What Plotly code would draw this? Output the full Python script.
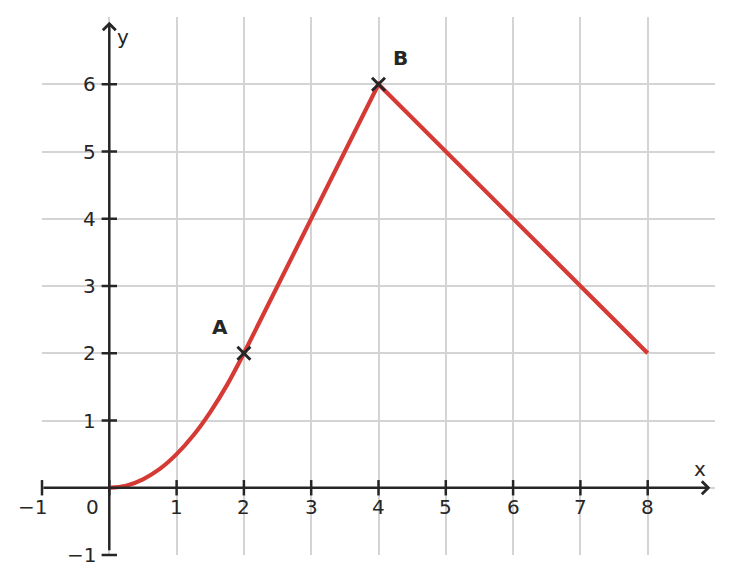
import plotly.graph_objects as go

curve_x = [0, 0.25, 0.5, 0.75, 1, 1.25, 1.5, 1.75, 2]
curve_y = [0, 0.03, 0.125, 0.28, 0.5, 0.78, 1.125, 1.53, 2]
line_x = [2, 4, 8]
line_y = [2, 6, 2]

# labelled points
point_names = ["A", "B"]
point_x = [2, 4]
point_y = [2, 6]

# ticks
x_ticks = [-1, 1, 2, 3, 4, 5, 6, 7, 8]
y_ticks = [-1, 1, 2, 3, 4, 5, 6]
x_grid = [-1, 0, 1, 2, 3, 4, 5, 6, 7, 8]
y_grid = [-1, 0, 1, 2, 3, 4, 5, 6]

ink = "#262626"
red = "#d63a35"
font = "DejaVu Sans"
fsize = 20


def minus(v):
    return str(v).replace("-", "\u2212")


fig = go.Figure()

# tick marks on the axes
fig.add_trace(go.Scatter(
    x=x_ticks + [0], y=[0] * (len(x_ticks) + 1), mode="markers",
    marker=dict(symbol="line-ns", size=11, line=dict(width=2.5, color=ink)),
    hoverinfo="skip", cliponaxis=False,
))
fig.add_trace(go.Scatter(
    x=[0] * len(y_ticks), y=y_ticks, mode="markers",
    marker=dict(symbol="line-ew", size=11, line=dict(width=2.5, color=ink)),
    hoverinfo="skip", cliponaxis=False,
))

# the function
fig.add_trace(go.Scatter(
    x=curve_x, y=curve_y, mode="lines", line_shape="spline",
    line=dict(color=red, width=4.2), hoverinfo="skip",
))
fig.add_trace(go.Scatter(
    x=line_x, y=line_y, mode="lines",
    line=dict(color=red, width=4.2), hoverinfo="skip",
))

# points A and B
fig.add_trace(go.Scatter(
    x=point_x, y=point_y, mode="markers",
    marker=dict(symbol="x-thin", size=13, line=dict(width=3, color=ink)),
    hoverinfo="skip",
))

# tick labels next to the axes
for t in x_ticks:
    fig.add_annotation(x=t, y=0, yshift=-19, xshift=-10 if t == -1 else 0,
                       text=minus(t), showarrow=False,
                       font=dict(family=font, size=fsize, color=ink))
fig.add_annotation(x=0, y=0, yshift=-19, xshift=-17, text="0", showarrow=False,
                   font=dict(family=font, size=fsize, color=ink))
for t in y_ticks:
    fig.add_annotation(x=0, y=t, xshift=-11, xanchor="right",
                       text=minus(t), showarrow=False,
                       font=dict(family=font, size=fsize, color=ink))

# axis arrows
fig.add_annotation(x=8.93, y=0, ax=-1, ay=0, xref="x", yref="y", axref="x", ayref="y",
                   showarrow=True, arrowhead=4, arrowsize=1, arrowwidth=2.5,
                   arrowcolor=ink, text="")
fig.add_annotation(x=0, y=6.93, ax=0, ay=-0.95, xref="x", yref="y", axref="x", ayref="y",
                   showarrow=True, arrowhead=4, arrowsize=1, arrowwidth=2.5,
                   arrowcolor=ink, text="")

# axis names
fig.add_annotation(x=8.77, y=0.28, text="x", showarrow=False,
                   font=dict(family=font, size=fsize, color=ink))
fig.add_annotation(x=0.21, y=6.71, text="y", showarrow=False,
                   font=dict(family=font, size=fsize, color=ink))

# point names
for name, px_, py_, dx, dy in zip(point_names, point_x, point_y, [-0.35, 0.32], [0.39, 0.39]):
    fig.add_annotation(x=px_ + dx, y=py_ + dy, text="<b>" + name + "</b>", showarrow=False,
                       font=dict(family=font, size=fsize, color=ink))

fig.update_layout(
    width=724, height=576,
    margin=dict(l=34, r=17, t=9, b=29),
    plot_bgcolor="white", paper_bgcolor="white",
    showlegend=False,
    xaxis=dict(range=[-1, 9], tickvals=x_grid, showticklabels=False,
               showgrid=True, gridcolor="#d4d4d4", gridwidth=1.5,
               zeroline=False, showline=False, fixedrange=True),
    yaxis=dict(range=[-1, 7], tickvals=y_grid, showticklabels=False,
               showgrid=True, gridcolor="#d4d4d4", gridwidth=1.5,
               zeroline=False, showline=False, fixedrange=True),
)

fig.write_html("out.html")
